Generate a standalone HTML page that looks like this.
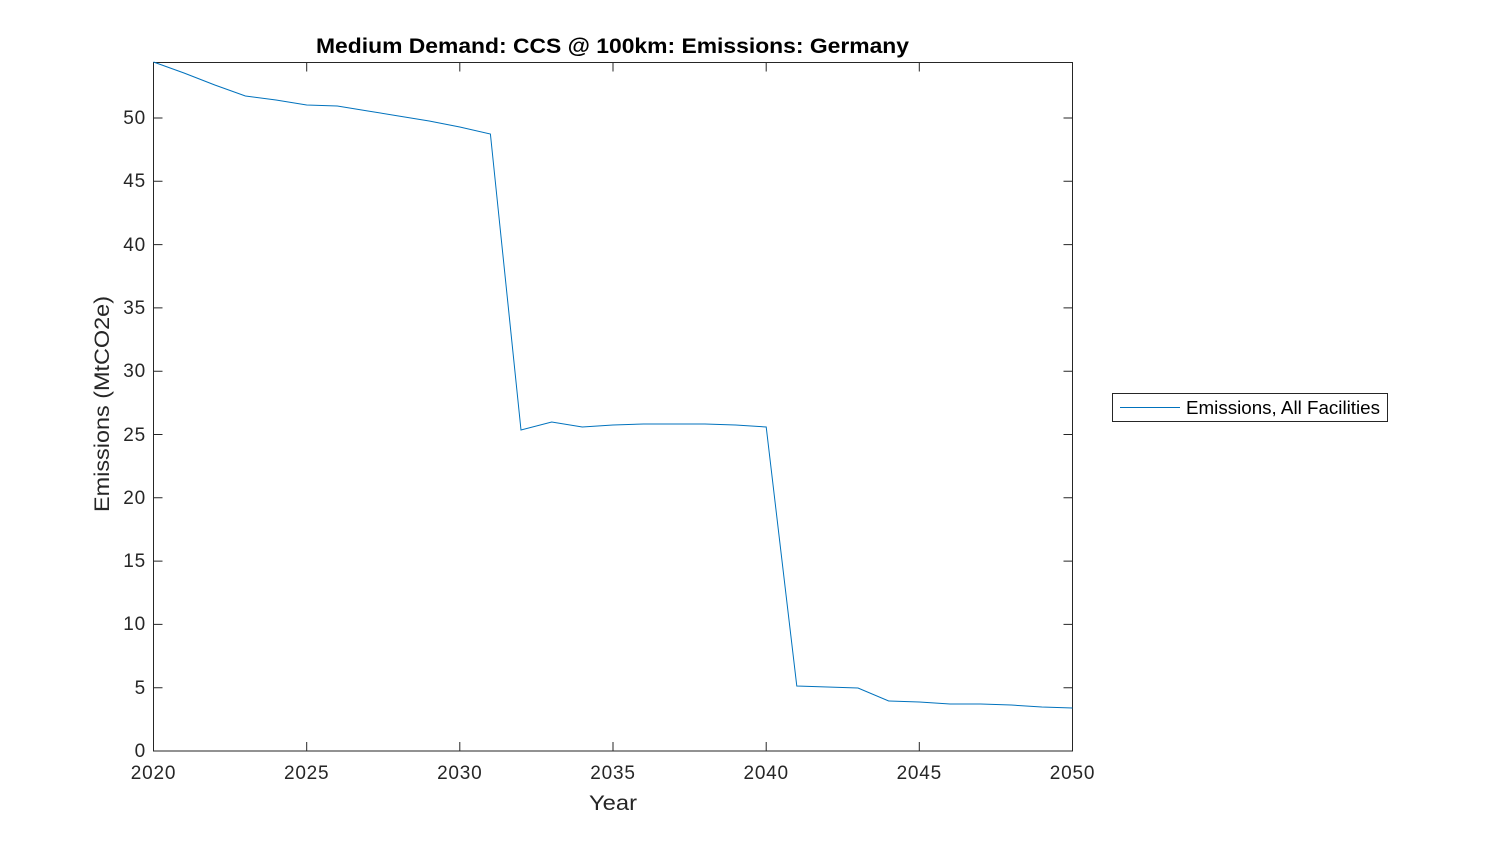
<!DOCTYPE html>
<html><head><meta charset="utf-8"><style>body{margin:0;background:#fff}</style></head><body>
<svg width="1500" height="844" xmlns="http://www.w3.org/2000/svg" font-family="Liberation Sans, Arial, sans-serif">
<rect width="1500" height="844" fill="#fff"/>
<rect x="153.5" y="62.5" width="919" height="688.5" fill="none" stroke="#262626" stroke-width="1"/>
<g stroke="#262626" stroke-width="1">
<path d="M153.5 751v-9M306.7 751v-9M459.8 751v-9M613 751v-9M766.2 751v-9M919.3 751v-9M1072.5 751v-9"/>
<path d="M306.7 62.5v9M459.8 62.5v9M613 62.5v9M766.2 62.5v9M919.3 62.5v9"/>
<path d="M153.5 687.7h9M153.5 624.4h9M153.5 561.1h9M153.5 497.8h9M153.5 434.5h9M153.5 371.2h9M153.5 307.9h9M153.5 244.6h9M153.5 181.3h9M153.5 118h9"/>
<path d="M1072.5 687.7h-9M1072.5 624.4h-9M1072.5 561.1h-9M1072.5 497.8h-9M1072.5 434.5h-9M1072.5 371.2h-9M1072.5 307.9h-9M1072.5 244.6h-9M1072.5 181.3h-9M1072.5 118h-9"/>
</g>
<g font-size="19" fill="#262626" text-anchor="middle" letter-spacing="0.8">
<text x="153.5" y="779">2020</text><text x="306.7" y="779">2025</text><text x="459.8" y="779">2030</text><text x="613" y="779">2035</text><text x="766.2" y="779">2040</text><text x="919.3" y="779">2045</text><text x="1072.5" y="779">2050</text>
</g>
<g font-size="19" fill="#262626" text-anchor="end" letter-spacing="0.8">
<text x="146" y="757">0</text><text x="146" y="694">5</text><text x="146" y="630">10</text><text x="146" y="567">15</text><text x="146" y="504">20</text><text x="146" y="441">25</text><text x="146" y="377">30</text><text x="146" y="314">35</text><text x="146" y="251">40</text><text x="146" y="187">45</text><text x="146" y="124">50</text>
</g>
<text x="589" y="810" font-size="21" fill="#262626" textLength="48" lengthAdjust="spacingAndGlyphs">Year</text>
<text transform="translate(109,512) rotate(-90)" font-size="21" fill="#262626" textLength="216" lengthAdjust="spacingAndGlyphs">Emissions (MtCO2e)</text>
<text x="316" y="53" font-size="21" font-weight="bold" fill="#000" textLength="593" lengthAdjust="spacingAndGlyphs">Medium Demand: CCS @ 100km: Emissions: Germany</text>
<polyline fill="none" stroke="#0072bd" stroke-width="1" points="153.5,62 184,73 214.8,85 245.4,96 276,100 306.7,105 337.3,106 367.9,111 398.5,116 429.2,121 459.8,127 490.4,134 521,430 551.7,422 582.3,427 613,425 643.6,424 674.2,424 704.8,424 735.5,425 766.2,427 796.8,686 827.4,687 858,688 888.7,701 919.3,702 950,704 980.6,704 1011.2,705 1041.8,707 1072.5,708"/>
<rect x="1112.5" y="393.5" width="275" height="28" fill="#fff" stroke="#262626" stroke-width="1"/>
<line x1="1120" y1="407.5" x2="1180" y2="407.5" stroke="#0072bd" stroke-width="1"/>
<text x="1186" y="414" font-size="18" fill="#000" textLength="194" lengthAdjust="spacingAndGlyphs">Emissions, All Facilities</text>
</svg>
</body></html>
